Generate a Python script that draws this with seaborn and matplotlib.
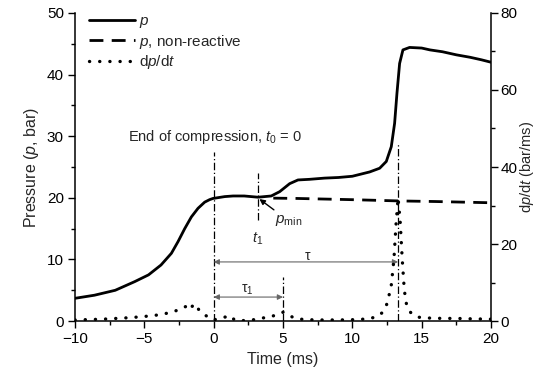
import matplotlib
matplotlib.use("Agg")
import matplotlib.pyplot as plt
from matplotlib.ticker import AutoMinorLocator, MultipleLocator
import seaborn as sns
import pandas as pd

# ---- data ----
t_p = [-10, -8.6, -7.1, -5.7, -4.7, -3.8, -3.05, -2.57, -2.09, -1.61, -1.13, -0.65, -0.3, -0.05, 0.8, 1.4,
       2.2, 3.2, 4.15, 4.76, 5.48, 6.08, 6.9, 8, 9, 10, 11.25, 11.97, 12.45, 12.81, 13.05, 13.22,
       13.41, 13.65, 14.13, 15.0, 15.6, 16.5, 17.5, 18.5, 19.3, 20]
p_vals = [3.7, 4.2, 5.0, 6.4, 7.5, 9.1, 11.0, 12.9, 15.0, 16.9, 18.3, 19.3, 19.7, 19.9, 20.2, 20.3,
          20.3, 20.1, 20.3, 21.0, 22.3, 22.9, 23.0, 23.2, 23.3, 23.5, 24.2, 24.8, 25.9, 28.3, 32.1, 37.0,
          41.8, 44.0, 44.4, 44.3, 44.0, 43.7, 43.2, 42.8, 42.4, 42.0]

t_nr = [4.3, 6, 8, 10, 13.3, 16, 20]
p_nr = [19.95, 19.9, 19.8, 19.7, 19.5, 19.4, 19.2]

t_d = [-10, -9, -8, -7, -6, -5, -4, -3, -2.5, -2, -1.8, -1.6, -1.4, -1.2, -1.0, -0.7, -0.4, -0.2, 0, 0.3,
       0.6, 0.9, 1.2, 1.5, 2, 3, 3.5, 4, 4.5, 5, 5.4, 5.8, 6.5, 7.5, 9, 10.5, 11.3, 11.8, 12.2, 12.5,
       12.8, 13.0, 13.15, 13.3, 13.45, 13.6, 13.75, 13.9, 14.1, 14.4, 14.8, 15.5, 16.5, 17.5, 18.5, 20]
d_vals = [0.3, 0.4, 0.5, 0.7, 0.9, 1.2, 1.6, 2.3, 3.0, 3.8, 4.5, 3.6, 4.5, 3.6, 2.6, 1.8, 1.0, 0.6, 0.3, 0.6,
          0.9, 1.1, 1.4, 0.3, 0.1, 0.4, 0.8, 1.0, 1.6, 2.3, 1.6, 0.8, 0.4, 0.3, 0.3, 0.4, 0.7, 1.2, 2.3, 4.5,
          9.0, 16.0, 25.0, 32.0, 26.0, 16.0, 8.0, 4.5, 2.6, 1.6, 1.0, 0.8, 0.7, 0.7, 0.6, 0.5]

event_t = [0, 3.2, 5.0, 13.3]         # t0, t1, t0+tau1, t0+tau
event_top = [27.4, 24.0, 7.1, 28.9]
event_bot = [0, 16.4, 0, 0]

# ---- style ----
sns.set_theme(style="ticks")
plt.rcParams['font.family'] = ['Liberation Sans', 'DejaVu Sans']
plt.rcParams['mathtext.fontset'] = 'custom'
plt.rcParams['mathtext.rm'] = 'Liberation Sans'
plt.rcParams['mathtext.it'] = 'Liberation Sans:italic'
plt.rcParams['font.size'] = 10.5

fig = plt.figure(figsize=(5.36, 3.80), dpi=100)
ax = fig.add_axes([0.14, 0.155, 0.776, 0.811])
ax2 = ax.twinx()

df_p = pd.DataFrame({"t": t_p, "p": p_vals})
df_nr = pd.DataFrame({"t": t_nr, "p": p_nr})
df_d = pd.DataFrame({"t": t_d, "d": d_vals})

dot_style = (0, (0.05, 3.0))
sns.lineplot(data=df_p, x="t", y="p", ax=ax, color="black", linewidth=2.0, label="$p$")
sns.lineplot(data=df_nr, x="t", y="p", ax=ax, color="black", linewidth=2.0,
             linestyle=(0, (5, 3)), label="$p$, non-reactive")
sns.lineplot(data=df_d, x="t", y="d", ax=ax2, color="black", linewidth=2.4,
             linestyle=dot_style, dash_capstyle="round", legend=False)
# legend entry for dp/dt
ax.plot([], [], color="black", linewidth=2.4, linestyle=dot_style,
        dash_capstyle="round", label="d$p$/d$t$")

# event lines
for tx, top, bot in zip(event_t, event_top, event_bot):
    ax.plot([tx, tx], [bot, top], color="black", linewidth=0.9, linestyle=(0, (6, 2, 1, 2)))

ax.set_xlim(-10, 20)
ax.set_ylim(0, 50)
ax2.set_ylim(0, 80)
ax.xaxis.set_major_locator(MultipleLocator(5))
ax.yaxis.set_major_locator(MultipleLocator(10))
ax2.yaxis.set_major_locator(MultipleLocator(20))
for a in (ax, ax2):
    a.xaxis.set_minor_locator(AutoMinorLocator(2))
    a.yaxis.set_minor_locator(AutoMinorLocator(2))
    a.tick_params(which="major", direction="out", length=5, width=1, labelsize=11, colors="black",
                  pad=3)
    a.tick_params(which="minor", direction="out", length=3, width=1, colors="black")
    for s in a.spines.values():
        s.set_linewidth(1.1)
        s.set_color("black")
    a.spines["top"].set_visible(False)
ax2.tick_params(which="major", pad=2)
ax.spines["right"].set_visible(False)
ax2.spines["left"].set_visible(False)
ax2.spines["bottom"].set_visible(False)

ax.set_xlabel("Time (ms)", fontsize=11.5)
ax.set_ylabel("Pressure ($p$, bar)", fontsize=11.5)
ax2.set_ylabel("d$p$/d$t$ (bar/ms)", fontsize=10.5, labelpad=0)

# annotations
ax.text(0.1, 29.9, "End of compression, $t_0$ = 0", ha="center", va="center", fontsize=10.5)
ax.text(3.2, 13.4, "$t_1$", ha="center", va="center", fontsize=10.5)
ax.annotate("$p_{\\mathrm{min}}$", xy=(3.3, 19.8), xytext=(4.4, 16.3), fontsize=11,
            ha="left", va="center",
            arrowprops=dict(arrowstyle="-|>", color="black", lw=1.0, mutation_scale=8,
                            shrinkA=0, shrinkB=0))
ax.annotate("", xy=(13.3, 9.6), xytext=(0, 9.6),
            arrowprops=dict(arrowstyle="<|-|>", color="#666666", lw=0.8, mutation_scale=8,
                            shrinkA=0, shrinkB=0))
ax.text(6.8, 10.6, "τ", ha="center", va="center", fontsize=10)
ax.annotate("", xy=(5.0, 3.9), xytext=(0, 3.9),
            arrowprops=dict(arrowstyle="<|-|>", color="#666666", lw=0.8, mutation_scale=8,
                            shrinkA=0, shrinkB=0))
ax.text(2.4, 5.0, "τ$_1$", ha="center", va="center", fontsize=10)

leg = ax.legend(loc="upper left", frameon=False, fontsize=11, handlelength=3.0,
                borderaxespad=0.1, labelspacing=0.15, handletextpad=0.3,
                bbox_to_anchor=(0.015, 1.02))

fig.savefig("out.png", dpi=100)
